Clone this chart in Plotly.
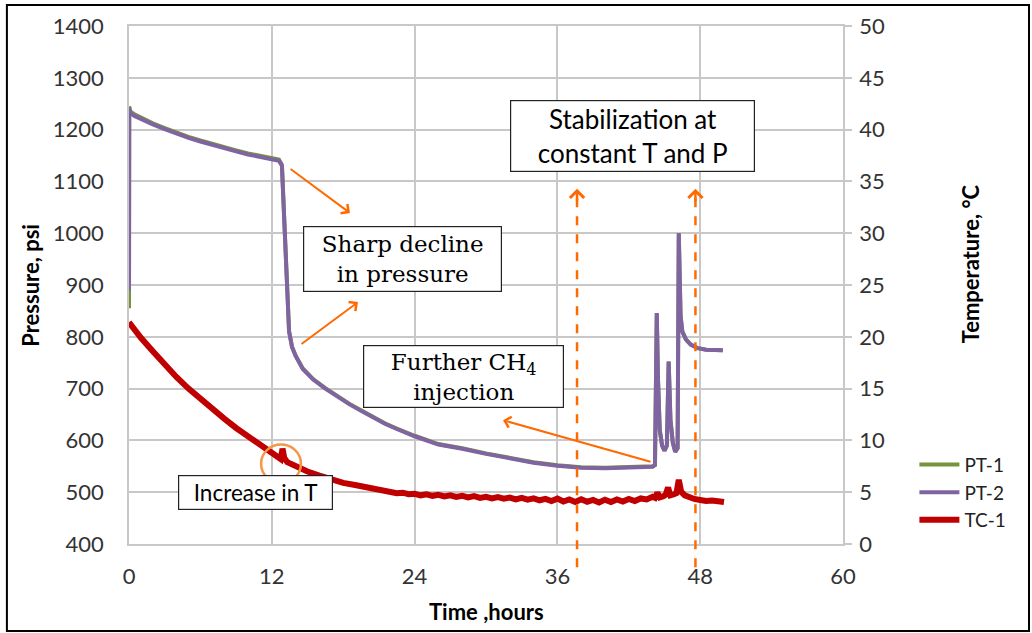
import plotly.graph_objects as go

# ---- data -------------------------------------------------------------
# Pressure transducers (psi) vs time (hours)
p_time = [0, 0.02, 0.1, 0.5, 1, 2, 3, 4, 5, 6, 7, 8, 9, 10, 11, 12, 12.6,
          12.85, 13.0, 13.15, 13.3, 13.45, 13.7, 14.0, 14.6, 15.5, 16.5,
          17.5, 18.5, 19.5, 20.5, 21.5, 22.5, 23.5, 24, 26, 28, 30, 32, 34,
          36, 38, 40, 42, 44, 44.2, 44.35, 44.45, 44.6, 44.8, 45.0, 45.2,
          45.35, 45.5, 45.7, 45.9, 46.1, 46.2, 46.35, 46.5, 46.8, 47.2,
          47.8, 48.5, 49.2, 49.9]

pt1_psi = [855, 1245, 1235, 1229, 1223, 1212, 1203, 1194, 1186, 1179, 1172,
           1166, 1160, 1154, 1149, 1145, 1142, 1132, 1051, 931, 851, 811,
           781, 764, 739, 718, 701, 685, 671, 658, 645, 633, 623, 613, 609,
           593, 585, 575, 566, 558, 552, 548, 547, 548, 550, 553, 846, 720,
           620, 590, 580, 590, 752, 640, 595, 578, 585, 1000, 840, 810, 795,
           785, 778, 775, 774, 774]

pt2_psi = [890, 1242, 1232, 1226, 1220, 1210, 1201, 1192, 1184, 1177, 1170,
           1164, 1158, 1152, 1147, 1143, 1140, 1130, 1050, 930, 850, 810,
           780, 763, 738, 717, 700, 684, 670, 657, 644, 632, 622, 612, 608,
           592, 584, 574, 565, 557, 551, 547, 546, 547, 549, 552, 846, 720,
           620, 590, 580, 590, 752, 640, 595, 578, 585, 1000, 840, 810, 795,
           785, 778, 775, 774, 774]

# Thermocouple (deg C) vs time (hours)
tc_time = [0, 0.5, 1, 2, 3, 4, 5, 6, 7, 8, 9, 10, 11, 12, 12.5, 12.75, 12.9,
           13.05, 13.3, 14, 15, 16, 17, 18, 19, 20.0, 20.5, 21.0, 21.5, 22.0,
           22.5, 23.0, 23.5, 24.0, 24.5, 25.0, 25.5, 26.0, 26.5, 27.0, 27.5,
           28.0, 28.5, 29.0, 29.5, 30.0, 30.5, 31.0, 31.5, 32.0, 32.5, 33.0,
           33.5, 34.0, 34.5, 35.0, 35.5, 36.0, 36.5, 37.0, 37.5, 38.0, 38.5,
           39.0, 39.5, 40.0, 40.5, 41.0, 41.5, 42.0, 42.5, 43.0, 43.5, 44.0,
           44.2, 44.4, 44.6, 44.9, 45.1, 45.3, 45.5, 45.8, 46.0, 46.2, 46.4,
           46.7, 47.0, 47.5, 48.0, 48.5, 49.0, 49.5, 50.0]

tc_degc = [21.4, 20.6, 19.9, 18.6, 17.3, 16.1, 15.0, 14.0, 13.0, 12.1, 11.2,
           10.4, 9.6, 8.7, 8.4, 8.2, 9.2, 8.3, 7.9, 7.5, 7.0, 6.6, 6.2, 5.9,
           5.7, 5.45, 5.30, 5.25, 5.05, 5.05, 4.90, 4.95, 4.80, 4.85, 4.70,
           4.80, 4.65, 4.75, 4.60, 4.70, 4.55, 4.65, 4.50, 4.62, 4.45, 4.55,
           4.40, 4.52, 4.38, 4.48, 4.30, 4.45, 4.28, 4.40, 4.22, 4.35, 4.15,
           4.38, 4.10, 4.30, 4.05, 4.32, 4.08, 4.25, 4.00, 4.28, 4.05, 4.30,
           4.10, 4.35, 4.15, 4.40, 4.30, 4.55, 4.45, 4.95, 4.50, 4.60, 4.75,
           5.45, 4.70, 4.80, 4.90, 6.20, 5.05, 4.70, 4.55, 4.35, 4.25, 4.15,
           4.20, 4.05, 4.05]

time_ticks = [0, 12, 24, 36, 48, 60]
psi_ticks = [400, 500, 600, 700, 800, 900, 1000, 1100, 1200, 1300, 1400]
degc_ticks = [0, 5, 10, 15, 20, 25, 30, 35, 40, 45, 50]

# ---- styling ----------------------------------------------------------
SANS = "Lato"
SERIF = "DejaVu Serif"
GRID = "#C8C8C8"
ORANGE = "#FF6A00"
CIRCLE = "#F79646"

fig = go.Figure()
fig.add_trace(go.Scatter(x=p_time, y=pt1_psi, name="PT-1", mode="lines",
                         line=dict(color="#77933C", width=4)))
fig.add_trace(go.Scatter(x=p_time, y=pt2_psi, name="PT-2", mode="lines",
                         line=dict(color="#8064A2", width=4)))
fig.add_trace(go.Scatter(x=tc_time, y=tc_degc, name="TC-1", mode="lines",
                         yaxis="y2", line=dict(color="#C00000", width=6)))

tickfont = dict(family=SANS, size=22, color="#333333")

fig.update_layout(
    width=1032, height=633,
    margin=dict(l=129, r=189, t=26, b=89),
    paper_bgcolor="white", plot_bgcolor="white",
    showlegend=True,
    legend=dict(x=1.10, y=0.19, xanchor="left", yanchor="top",
                font=dict(family=SANS, size=19, color="#222222"),
                tracegroupgap=0, itemwidth=40, bgcolor="rgba(0,0,0,0)"),
    xaxis=dict(range=[0, 60], tickvals=time_ticks, ticktext=[str(v) for v in time_ticks],
               showgrid=True, gridcolor=GRID, gridwidth=1.5,
               showline=True, linecolor=GRID, linewidth=1.5, mirror=True,
               ticks="", zeroline=False, tickfont=tickfont, ticklabelstandoff=12),
    yaxis=dict(range=[400, 1400], tickvals=psi_ticks, ticktext=[str(v) for v in psi_ticks],
               showgrid=True, gridcolor=GRID, gridwidth=1.5,
               showline=True, linecolor=GRID, linewidth=1.5,
               ticks="", zeroline=False, tickfont=tickfont, ticklabelstandoff=19),
    yaxis2=dict(range=[0, 50], tickvals=degc_ticks, ticktext=[str(v) for v in degc_ticks],
                overlaying="y", side="right", showgrid=False,
                showline=True, linecolor=GRID, linewidth=1.5,
                ticks="outside", ticklen=7, tickcolor=GRID, tickwidth=1.5,
                zeroline=False, tickfont=tickfont, ticklabelstandoff=3),
)

# Axis titles
title_font = dict(family=SANS, size=22, color="black")
fig.add_annotation(text="<b>Pressure, psi</b>", xref="paper", yref="paper",
                   x=-0.139, y=0.50, xanchor="center", yanchor="middle",
                   showarrow=False, textangle=-90, font=title_font)
fig.add_annotation(text="<b>Temperature, °C</b>", xref="paper", yref="paper",
                   x=1.178, y=0.54, xanchor="center", yanchor="middle",
                   showarrow=False, textangle=-90, font=title_font)
fig.add_annotation(text="<b>Time ,hours</b>", xref="paper", yref="paper",
                   x=0.50, y=-0.131, xanchor="center", yanchor="middle",
                   showarrow=False, font=title_font)

# Text boxes
def box(text, x, y, w, h, font):
    fig.add_annotation(text=text, x=x, y=y, xref="x", yref="y",
                       xanchor="center", yanchor="middle", showarrow=False,
                       width=w, height=h, borderpad=0, align="center",
                       bordercolor="#222222", borderwidth=1.2, bgcolor="white",
                       font=font)

box("Stabilization at<br>constant T and P", 42.35, 1188, 243, 70,
    dict(family=SANS, size=26, color="black"))
box("Sharp decline<br>in pressure", 23.0, 950, 197, 64,
    dict(family=SERIF, size=23, color="black"))
box("Further CH<sub>4</sub><br>injection", 28.1, 724, 199, 61,
    dict(family=SERIF, size=23, color="black"))
box("Increase in T", 10.6, 499, 153, 33,
    dict(family=SANS, size=22.5, color="black"))

# Orange pointer arrows
def arrow(x_tail, y_tail, x_head, y_head):
    fig.add_annotation(x=x_head, y=y_head, ax=x_tail, ay=y_tail,
                       xref="x", yref="y", axref="x", ayref="y", text="",
                       showarrow=True, arrowhead=4, arrowsize=1.1,
                       arrowwidth=2, arrowcolor=ORANGE)

arrow(13.45, 1126, 18.57, 1039)
arrow(14.37, 784, 19.24, 867)
arrow(43.95, 558, 31.43, 639)

# Dashed vertical arrows marking the stabilization period
for xv in (37.65, 47.6):
    fig.add_shape(type="line", xref="x", yref="paper", x0=xv, x1=xv,
                  y0=-0.045, y1=0.675, line=dict(color=ORANGE, width=2.5, dash="dash"))
    fig.add_annotation(x=xv, y=0.686, xref="x", yref="paper", ax=0, ay=14,
                       text="", showarrow=True, arrowhead=4, arrowsize=1.1,
                       arrowwidth=2.5, arrowcolor=ORANGE)

# Circle around the temperature bump
fig.add_shape(type="circle", xref="x", yref="y", x0=11.1, x1=14.45, y0=518, y1=592,
              line=dict(color=CIRCLE, width=2.5))

# Outer frame
fig.add_shape(type="rect", xref="paper", yref="paper",
              x0=-0.171, x1=1.2605, y0=-0.168, y1=1.0405,
              line=dict(color="black", width=2))

fig.write_html("out.html")
